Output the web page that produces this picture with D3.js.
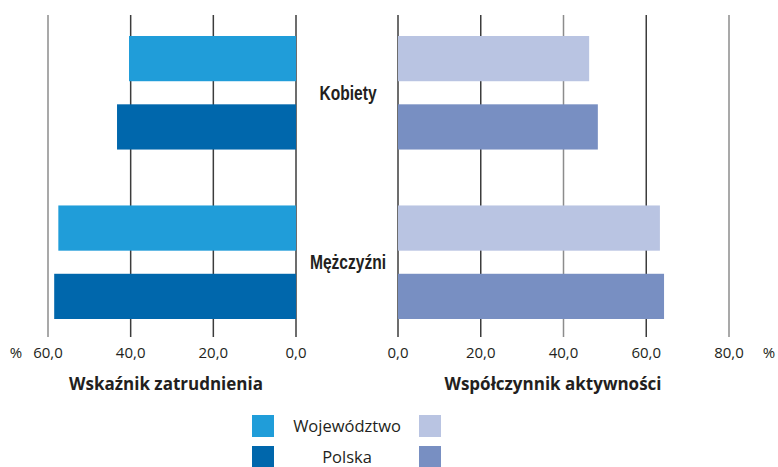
<!DOCTYPE html>
<html>
<head>
<meta charset="utf-8">
<script src="https://cdn.jsdelivr.net/npm/d3@7"></script>
<style>
  body { margin: 0; background: #fff; }
  text { fill: #231f20; }
</style>
</head>
<body>
<div id="chart"></div>
<script>
// Data
const categories = ["Kobiety", "Mężczyźni"];
const seriesNames = ["Województwo", "Polska"];
const employment = [[40.4, 43.3], [57.5, 58.5]];   // Wskaźnik zatrudnienia
const activity = [[46.2, 48.3], [63.3, 64.3]];     // Współczynnik aktywności
const leftTicks = [60, 40, 20, 0];
const rightTicks = [0, 20, 40, 60, 80];

const W = 778, H = 467;
const leftColors = ["#209dd9", "#0067ac"];
const rightColors = ["#b9c4e2", "#788fc2"];

const svg = d3.select("#chart")
    .append("svg")
    .attr("width", W)
    .attr("height", H);

// Scales
const xLeft = d3.scaleLinear().domain([0, 60]).range([296, 48]);
const xRight = d3.scaleLinear().domain([0, 80]).range([398, 729]);

const yCat = d3.scaleBand()
    .domain(categories)
    .range([36, 319])
    .paddingInner(0.33)
    .paddingOuter(0);

const ySer = d3.scaleBand()
    .domain(seriesNames)
    .range([0, yCat.bandwidth()])
    .paddingInner(0.338)
    .paddingOuter(0);

const pl = d3.formatLocale({ decimal: ",", thousands: " ", grouping: [3], currency: ["", " zł"] });
const fmt = pl.format(".1f");

// gridlines that look lighter in the original
const lightLeft = [60];
const lightRight = [40, 80];

const gridTop = 15, gridBottom = 337;

function drawGrid(scale, ticks, light) {
    svg.append("g")
        .selectAll("line")
        .data(ticks)
        .enter()
        .append("line")
        .attr("x1", d => scale(d))
        .attr("x2", d => scale(d))
        .attr("y1", gridTop)
        .attr("y2", gridBottom)
        .attr("stroke", d => light.includes(d) ? "#8c8c8c" : "#3c3c3c")
        .attr("stroke-width", 1.5);

    svg.append("g")
        .selectAll("text")
        .data(ticks)
        .enter()
        .append("text")
        .attr("x", d => scale(d))
        .attr("y", 358)
        .attr("text-anchor", "middle")
        .style("font-family", "'Open Sans', sans-serif")
        .style("font-size", "15px")
        .text(d => fmt(d));
}

drawGrid(xLeft, leftTicks, lightLeft);
drawGrid(xRight, rightTicks, lightRight);

// Bars
function drawBars(values, scale, colors, leftSide) {
    const g = svg.append("g");
    categories.forEach((cat, ci) => {
        g.selectAll(null)
            .data(values[ci])
            .enter()
            .append("rect")
            .attr("x", d => leftSide ? scale(d) : scale(0))
            .attr("width", d => Math.abs(scale(d) - scale(0)))
            .attr("y", (d, i) => yCat(cat) + ySer(seriesNames[i]))
            .attr("height", ySer.bandwidth())
            .attr("fill", (d, i) => colors[i]);
    });
}

drawBars(employment, xLeft, leftColors, true);
drawBars(activity, xRight, rightColors, false);

// Category labels (condensed bold look: squeeze horizontally)
svg.append("g")
    .selectAll("text")
    .data(categories)
    .enter()
    .append("text")
    .attr("transform", d => `translate(348, ${yCat(d) + yCat.bandwidth() / 2 + 7}) scale(0.8, 1)`)
    .attr("text-anchor", "middle")
    .style("font-family", "'Liberation Sans', Arial, sans-serif")
    .style("font-weight", "bold")
    .style("font-size", "19.5px")
    .text(d => d);

// Percent signs
svg.append("text")
    .attr("x", 16).attr("y", 358)
    .attr("text-anchor", "middle")
    .style("font-family", "'Open Sans', sans-serif")
    .style("font-size", "15px")
    .text("%");
svg.append("text")
    .attr("x", 769).attr("y", 358)
    .attr("text-anchor", "middle")
    .style("font-family", "'Open Sans', sans-serif")
    .style("font-size", "15px")
    .text("%");

// Panel titles
const titles = [
    { label: "Wskaźnik zatrudnienia", x: 166 },
    { label: "Współczynnik aktywności", x: 553 }
];
svg.append("g")
    .selectAll("text")
    .data(titles)
    .enter()
    .append("text")
    .attr("x", d => d.x)
    .attr("y", 390)
    .attr("text-anchor", "middle")
    .style("font-family", "'Open Sans', sans-serif")
    .style("font-weight", "bold")
    .style("font-size", "17px")
    .text(d => d.label);

// Legend
const legend = svg.append("g");
seriesNames.forEach((name, i) => {
    const y = 415 + i * 31;
    legend.append("rect")
        .attr("x", 252).attr("y", y)
        .attr("width", 22).attr("height", 22)
        .attr("fill", leftColors[i]);
    legend.append("rect")
        .attr("x", 419).attr("y", y)
        .attr("width", 22).attr("height", 22)
        .attr("fill", rightColors[i]);
    legend.append("text")
        .attr("x", 347).attr("y", y + 17)
        .attr("text-anchor", "middle")
        .style("font-family", "'Open Sans', sans-serif")
        .style("font-size", "16.5px")
        .text(name);
});
</script>
</body>
</html>
